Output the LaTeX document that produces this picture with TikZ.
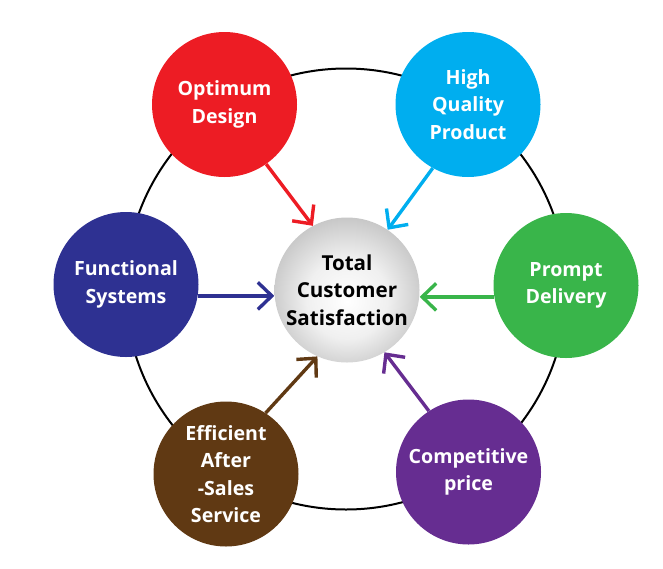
\documentclass[tikz,border=0pt]{standalone}
\usepackage{fontspec}
\setmainfont{Open Sans}
\usetikzlibrary{arrows.meta}
\definecolor{cred}{HTML}{ED1C24}
\definecolor{cblue}{HTML}{00AEEF}
\definecolor{cnavy}{HTML}{2E3192}
\definecolor{cgreen}{HTML}{39B54A}
\definecolor{cbrown}{HTML}{603913}
\definecolor{cpurple}{HTML}{662D91}
\pgfdeclareradialshading{sphereshade}{\pgfpoint{0bp}{-4bp}}{color(0bp)=(white); color(14bp)=(white!94!black); color(32bp)=(black!28); color(50bp)=(black!58)}
\newcommand{\bubfont}{\fontsize{19.6}{27.3}\selectfont\bfseries}
\newcommand{\ctrfont}{\fontsize{20.6}{27.3}\selectfont\bfseries}
\begin{document}
\begin{tikzpicture}[x=1pt,y=-1pt,
  bub/.style={circle, minimum size=145pt, inner sep=0pt, fill=#1, text=white, align=center, font=\bubfont},
  conn/.style={draw=#1, line width=3.4pt, -{Straight Barb[length=14pt,width=27pt]}}]
\useasboundingbox (0,0) rectangle (663,568);
\draw[line width=2pt] (346,289) circle[radius=220.5];
\node[bub=cred] (opt) at (224.5,104.5) {Optimum\\Design};
\node[bub=cblue] (hq) at (468,104.5) {High\\Quality\\Product};
\node[bub=cnavy] (fun) at (126,284.5) {Functional\\Systems};
\node[bub=cgreen] (pd) at (566,285.5) {Prompt\\Delivery};
\node[bub=cbrown] (eff) at (226,474) {Efficient\\After\\-Sales\\Service};
\node[bub=cpurple] (cp) at (468.5,472) {Competitive\\price};
\node[circle, minimum size=145pt, inner sep=0pt, shading=sphereshade, align=center, font=\ctrfont, text=black] (ctr) at (347,290) {Total\\Customer\\Satisfaction};
\draw[conn=cred] (opt.-55) -- (ctr.118);
\draw[conn=cblue] (hq.-119) -- (ctr.56);
\draw[conn=cnavy] (fun.-9) -- (ctr.west |- fun.-9);
\draw[conn=cgreen] (pd.189) -- (ctr.east |- pd.189);
\draw[conn=cbrown] (eff.57) -- (ctr.-114);
\draw[conn=cpurple] (cp.123) -- (ctr.-59);
\end{tikzpicture}
\end{document}
